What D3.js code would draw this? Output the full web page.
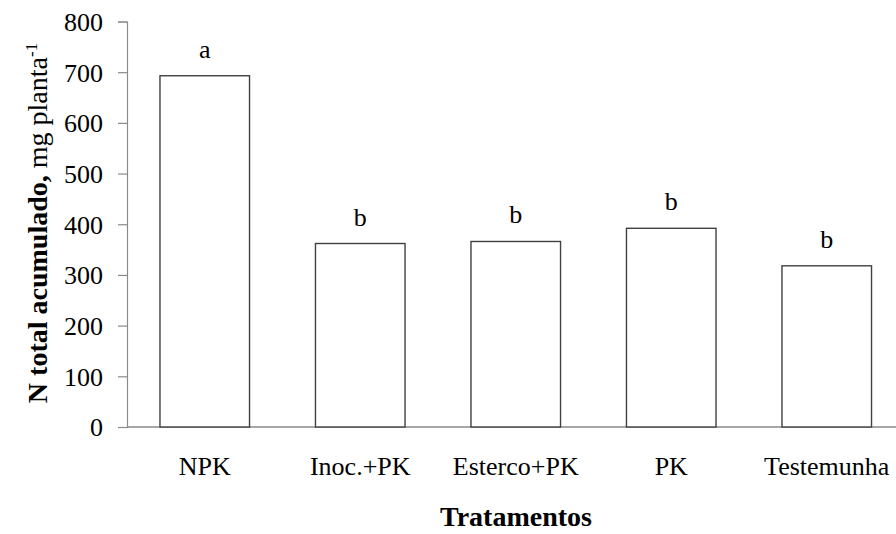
<!DOCTYPE html>
<html><head><meta charset="utf-8">
<script src="https://cdn.jsdelivr.net/npm/d3@7"></script>
<style>body{margin:0;background:#fff;} svg{display:block;} text{font-family:"Liberation Serif","Times New Roman",serif;}</style>
</head><body>
<svg id="chart" width="896" height="534"></svg>
<script>
const categories = ["NPK", "Inoc.+PK", "Esterco+PK", "PK", "Testemunha"];
const values = [693, 362, 366, 392, 318];
const letters = ["a", "b", "b", "b", "b"];
const yTicks = [0, 100, 200, 300, 400, 500, 600, 700, 800];

const svg = d3.select("#chart");
const x0 = 127, y0 = 427, yTop = 21.5;
const x = d3.scaleBand().domain(categories).range([x0, 904.5]).paddingInner(0.424).paddingOuter(0.212);
const y = d3.scaleLinear().domain([0, 800]).range([y0, yTop]);
const serif = "'Liberation Serif', 'Times New Roman', serif";

// y axis
const yAxis = svg.append("g").attr("transform", `translate(${x0},0)`)
  .call(d3.axisLeft(y).tickValues(yTicks).tickSize(9).tickPadding(15).tickFormat(d3.format("d")));
yAxis.select(".domain").attr("stroke", "#8a8a8a").attr("stroke-width", 1.2);
yAxis.selectAll(".tick line").attr("stroke", "#8a8a8a").attr("stroke-width", 1.2);
yAxis.selectAll("text").style("font-family", serif).style("font-size", "26px").attr("fill", "#000").attr("dy", "0.34em");

// x axis line
svg.append("line").attr("x1", x0).attr("x2", 896).attr("y1", y0).attr("y2", y0)
  .attr("stroke", "#8a8a8a").attr("stroke-width", 1.5);

// bars
svg.selectAll("rect.bar").data(values).join("rect").attr("class", "bar")
  .attr("x", (d, i) => x(categories[i]))
  .attr("y", d => y(d))
  .attr("width", x.bandwidth())
  .attr("height", d => y0 - y(d))
  .attr("fill", "#fff").attr("stroke", "#404040").attr("stroke-width", 1.4);

// letters
svg.selectAll("text.letter").data(letters).join("text").attr("class", "letter")
  .attr("x", (d, i) => x(categories[i]) + x.bandwidth() / 2)
  .attr("y", (d, i) => y(values[i]) - 18)
  .attr("text-anchor", "middle").style("font-family", serif).style("font-size", "26px")
  .text(d => d);

// category labels
svg.selectAll("text.cat").data(categories).join("text").attr("class", "cat")
  .attr("x", d => x(d) + x.bandwidth() / 2)
  .attr("y", 475)
  .attr("text-anchor", "middle").style("font-family", serif).style("font-size", "26px")
  .text(d => d);

// x title
svg.append("text").attr("x", 516).attr("y", 526).attr("text-anchor", "middle")
  .style("font-family", serif).style("font-size", "28px").style("font-weight", "bold")
  .text("Tratamentos");

// y title
const yt = svg.append("text").attr("transform", "translate(47,223) rotate(-90)")
  .attr("text-anchor", "middle").style("font-family", serif).style("font-size", "28px");
yt.append("tspan").style("font-weight", "bold").text("N total acumulado,");
yt.append("tspan").text(" mg planta");
yt.append("tspan").style("font-size", "17px").attr("dy", -10).text("-1");
</script>
</body></html>
